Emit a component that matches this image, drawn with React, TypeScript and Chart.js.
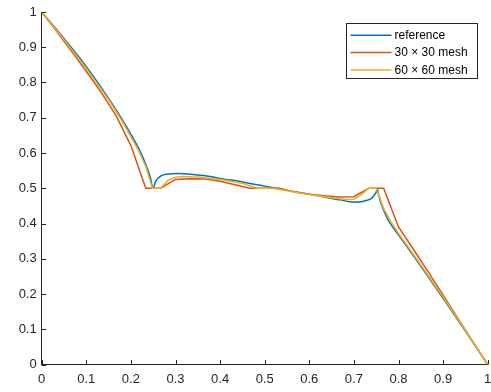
import React, { useEffect, useRef } from 'react';
import { Chart, registerables } from 'chart.js';

Chart.register(...registerables);

// ---- data ----
const xTickLabels = ['0', '0.1', '0.2', '0.3', '0.4', '0.5', '0.6', '0.7', '0.8', '0.9', '1'];
const yTickLabels = ['0', '0.1', '0.2', '0.3', '0.4', '0.5', '0.6', '0.7', '0.8', '0.9', '1'];

const seriesNames = ['reference', '30 \u00d7 30 mesh', '60 \u00d7 60 mesh'];
const seriesColors = ['#0072BD', '#D95319', '#EDB120'];

const refX = [0, 0.05, 0.1, 0.15, 0.175, 0.2, 0.22, 0.232, 0.243, 0.25, 0.255, 0.262, 0.273, 0.29, 0.31, 0.333, 0.37, 0.4, 0.45, 0.5, 0.55, 0.6, 0.65, 0.67, 0.69, 0.71, 0.73, 0.74, 0.747, 0.751, 0.752, 0.756, 0.76, 0.77, 0.78, 0.8, 0.85, 0.9, 0.95, 1];
const refY = [1, 0.925, 0.845, 0.755, 0.706, 0.653, 0.607, 0.572, 0.534, 0.5, 0.518, 0.53, 0.538, 0.541, 0.542, 0.54, 0.535, 0.528, 0.518, 0.506, 0.494, 0.483, 0.471, 0.467, 0.462, 0.461, 0.466, 0.472, 0.483, 0.493, 0.5, 0.478, 0.46, 0.428, 0.403, 0.368, 0.279, 0.188, 0.095, 0];

const mesh30X = [0, 0.0333, 0.0667, 0.1, 0.1333, 0.1667, 0.2, 0.2333, 0.2667, 0.3, 0.3333, 0.3667, 0.4, 0.4333, 0.4667, 0.5, 0.5333, 0.5667, 0.6, 0.6333, 0.6667, 0.7, 0.7333, 0.7667, 0.8, 0.8333, 0.8667, 0.9, 0.9333, 0.9667, 1];
const mesh30Y = [1, 0.945, 0.889, 0.832, 0.772, 0.706, 0.621, 0.5, 0.5, 0.525, 0.527, 0.526, 0.52, 0.51, 0.5, 0.5, 0.5, 0.489, 0.483, 0.479, 0.475, 0.476, 0.5, 0.5, 0.39, 0.327, 0.263, 0.197, 0.131, 0.065, 0];

const mesh60X = [0, 0.05, 0.1, 0.15, 0.1833, 0.2, 0.2167, 0.2333, 0.2483, 0.2667, 0.2833, 0.3, 0.3167, 0.35, 0.4, 0.45, 0.4833, 0.5167, 0.55, 0.6, 0.65, 0.6833, 0.7, 0.7167, 0.7333, 0.75, 0.7667, 0.7833, 0.8, 0.85, 0.9, 0.95, 1];
const mesh60Y = [1, 0.922, 0.84, 0.751, 0.684, 0.646, 0.608, 0.562, 0.5, 0.5, 0.523, 0.531, 0.533, 0.532, 0.525, 0.514, 0.5, 0.5, 0.493, 0.482, 0.473, 0.468, 0.469, 0.482, 0.5, 0.5, 0.443, 0.404, 0.372, 0.283, 0.191, 0.097, 0];

const toPoints = (xs: number[], ys: number[]) => xs.map((x, i) => ({ x, y: ys[i] }));

const AXIS_COLOR = '#262626';
const FONT_FAMILY = '"Liberation Sans", Arial, Helvetica, sans-serif';

const innerTicksAndLegend = {
  id: 'innerTicksAndLegend',
  afterDraw(chart: any) {
    const { ctx, chartArea } = chart;
    const xs = chart.scales.x;
    const ys = chart.scales.y;
    ctx.save();
    ctx.strokeStyle = AXIS_COLOR;
    ctx.lineWidth = 1;
    const tl = 4.5;
    xs.ticks.forEach((t: any) => {
      const px = Math.round(xs.getPixelForValue(t.value)) + 0.5;
      ctx.beginPath();
      ctx.moveTo(px, chartArea.bottom);
      ctx.lineTo(px, chartArea.bottom - tl);
      ctx.stroke();
    });
    ys.ticks.forEach((t: any) => {
      const py = Math.round(ys.getPixelForValue(t.value)) + 0.5;
      ctx.beginPath();
      ctx.moveTo(chartArea.left, py);
      ctx.lineTo(chartArea.left + tl, py);
      ctx.stroke();
    });

    // legend
    const boxW = 131;
    const boxH = 55;
    const bx = Math.round(chartArea.right - 11 - boxW) + 0.5;
    const by = Math.round(chartArea.top + 10.5) + 0.5;
    ctx.fillStyle = '#ffffff';
    ctx.fillRect(bx, by, boxW, boxH);
    ctx.strokeStyle = AXIS_COLOR;
    ctx.lineWidth = 1;
    ctx.strokeRect(bx, by, boxW, boxH);
    ctx.font = '12px ' + FONT_FAMILY;
    ctx.textBaseline = 'middle';
    ctx.textAlign = 'left';
    seriesNames.forEach((name, i) => {
      const rowY = by + 11.8 + i * 17.3;
      ctx.strokeStyle = seriesColors[i];
      ctx.lineWidth = 1.5;
      ctx.beginPath();
      ctx.moveTo(bx + 4, rowY);
      ctx.lineTo(bx + 45, rowY);
      ctx.stroke();
      ctx.fillStyle = '#000000';
      ctx.fillText(name, bx + 48, rowY + 0.5);
    });
    ctx.restore();
  },
};

export default function App() {
  const canvasRef = useRef<HTMLCanvasElement | null>(null);

  useEffect(() => {
    if (!canvasRef.current) return;
    const chart = new Chart(canvasRef.current, {
      type: 'line',
      data: {
        datasets: [
          {
            label: seriesNames[0],
            data: toPoints(refX, refY),
            borderColor: seriesColors[0],
            borderWidth: 1.5,
            pointRadius: 0,
            cubicInterpolationMode: 'monotone',
            fill: false,
            order: 3,
          },
          {
            label: seriesNames[1],
            data: toPoints(mesh30X, mesh30Y),
            borderColor: seriesColors[1],
            borderWidth: 1.5,
            pointRadius: 0,
            tension: 0,
            fill: false,
            order: 2,
          },
          {
            label: seriesNames[2],
            data: toPoints(mesh60X, mesh60Y),
            borderColor: seriesColors[2],
            borderWidth: 1.5,
            pointRadius: 0,
            tension: 0,
            fill: false,
            order: 1,
          },
        ],
      },
      options: {
        responsive: false,
        animation: false,
        layout: { padding: { top: 12, right: 3.3, left: 0, bottom: 0 } },
        plugins: {
          legend: { display: false },
          tooltip: { enabled: false },
        },
        scales: {
          x: {
            type: 'linear',
            min: 0,
            max: 1,
            grid: { display: false, drawTicks: false },
            border: { display: true, color: AXIS_COLOR, width: 1 },
            ticks: {
              stepSize: 0.1,
              autoSkip: false,
              maxRotation: 0,
              padding: 7,
              color: AXIS_COLOR,
              font: { family: FONT_FAMILY, size: 13 },
              callback: (_v: any, i: number) => xTickLabels[i],
            },
            afterFit: (scale: any) => {
              scale.height = 27.5;
              scale.paddingLeft = 0;
              scale.paddingRight = 0;
            },
          },
          y: {
            type: 'linear',
            min: 0,
            max: 1,
            grid: { display: false, drawTicks: false },
            border: { display: true, color: AXIS_COLOR, width: 1 },
            ticks: {
              stepSize: 0.1,
              autoSkip: false,
              padding: 5,
              color: AXIS_COLOR,
              font: { family: FONT_FAMILY, size: 13 },
              callback: (_v: any, i: number) => yTickLabels[i],
            },
            afterFit: (scale: any) => {
              scale.width = 41.7;
              scale.paddingTop = 0;
              scale.paddingBottom = 0;
            },
          },
        },
      },
      plugins: [innerTicksAndLegend],
    } as any);
    return () => chart.destroy();
  }, []);

  return (
    <div style={{ position: 'fixed', left: 0, top: 0, width: 491, height: 392, background: '#fff' }}>
      <canvas ref={canvasRef} width={491} height={392} style={{ display: 'block' }} />
    </div>
  );
}
